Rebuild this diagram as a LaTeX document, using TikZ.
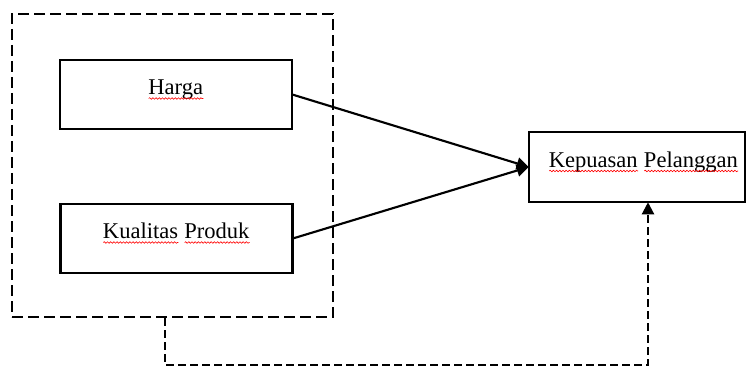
\documentclass[tikz,border=0pt]{standalone}
\usepackage{fontspec}
\setmainfont{Liberation Serif}
\usetikzlibrary{arrows.meta,decorations.pathmorphing}

\newsavebox\typobox
\newcommand\typo[1]{\sbox\typobox{#1}\rlap{\usebox\typobox}%
  \tikz[baseline=0pt,x=1pt,y=1pt]\draw[red,line width=0.45pt,solid,decorate,
    decoration={snake,amplitude=0.6pt,segment length=2.4pt}] (0,-3) -- (\wd\typobox,-3);}

\begin{document}
\begin{tikzpicture}[x=0.75pt,y=-0.75pt,>={Triangle[length=9pt,width=9pt]},line width=1.6pt,
                    box/.style={draw,rectangle,minimum width=174pt,minimum height=51.75pt,
                      text height=10pt,text depth=10pt,font=\fontsize{16.9}{20}\selectfont},
                    grpbox/.style={draw,rectangle,dash pattern=on 8pt off 4pt,
                      minimum width=240.75pt,minimum height=227.25pt},
                    fb/.style={dash pattern=on 6pt off 3pt}]
  \useasboundingbox (0,0) rectangle (748,367);

  \node[box] (harga) at (176,94.5)  {\typo{Harga}};
  \node[box] (kual)  at (176.5,238.5) {\typo{Kualitas} \typo{Produk}};
  \node[box,minimum width=162pt,minimum height=52.5pt] (kep) at (637,167)
        {\hspace{10pt}\typo{Kepuasan} \typo{Pelanggan}};
  \node[grpbox] (grp) at (172.5,165.5) {};

  \draw[->] (harga.east) -- (kep.west);
  \draw[->] (kual.east) -- (kep.west);

  % feedback
  \coordinate (fbl) at (165,365);
  \coordinate (fbr) at (648,365);
  \draw[->,fb] (grp.south -| fbl) -- (fbl) -- (fbr) -- (kep.south -| fbr);
\end{tikzpicture}
\end{document}
